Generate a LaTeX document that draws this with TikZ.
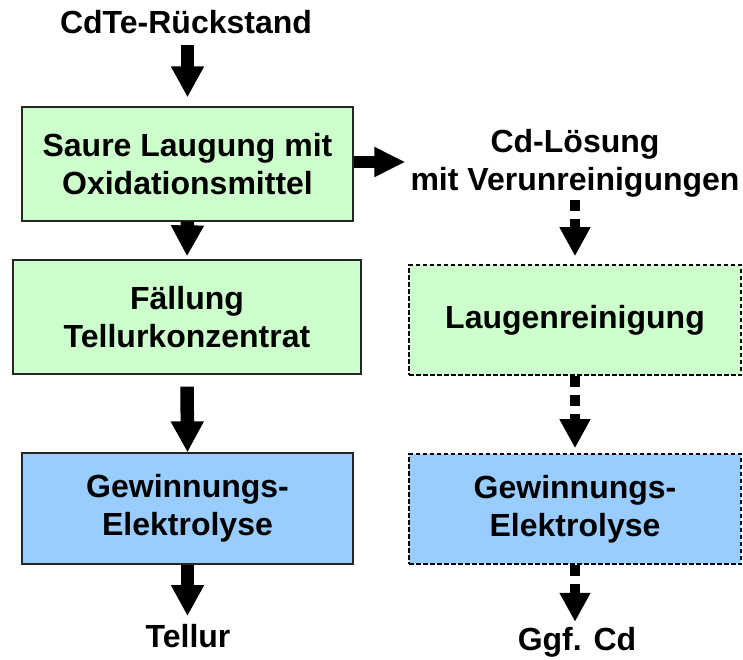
\documentclass[tikz,border=0pt]{standalone}
\usepackage{fontspec}
\setmainfont{Liberation Sans}
\usetikzlibrary{arrows.meta}
\definecolor{boxgreen}{RGB}{204,255,204}
\definecolor{boxblue}{RGB}{153,204,255}
\begin{document}
\begin{tikzpicture}[x=1pt,y=-1pt,
  every node/.style={font=\bfseries\fontsize{32}{38}\selectfont, align=center, inner sep=0pt},
  procbox/.style={draw=black!85, line width=1.3pt, minimum height=#1},
  greenfill/.style={fill=boxgreen},
  bluefill/.style={fill=boxblue},
  dashedbox/.style={draw=black, line width=1.6pt, dash pattern=on 4.5pt off 2.5pt},
  bigarrow/.style={line width=13.5pt, -{Triangle[width=31pt,length=31pt]}},
  sidearrow/.style={line width=12pt, -{Triangle[width=28pt,length=31pt]}},
  dasharrow/.style={line width=10.5pt, dash pattern=on 11pt off 8pt, -{Triangle[width=29pt,length=29pt]}}
]
\useasboundingbox (0,0) rectangle (743,659);

\node (title) at (186,22) {CdTe-Rückstand};
\node[procbox=114pt, minimum width=331pt, greenfill] (b1) at (187.5,164) {Saure Laugung mit\\Oxidationsmittel};
\node[procbox=114pt, minimum width=348pt, greenfill] (b2) at (187,317) {Fällung\\Tellurkonzentrat};
\node[procbox=111pt, minimum width=331pt, bluefill] (b3) at (187.5,508.5) {Gewinnungs-\\Elektrolyse};
\node (tellur) at (188,636) {Tellur};

\node (cdl) at (575,163) {Cd-Lösung\\mit Verunreinigungen};
\node[procbox=110pt, minimum width=332pt, greenfill, dashedbox] (r1) at (575,320) {Laugenreinigung};
\node[procbox=110pt, minimum width=332pt, bluefill, dashedbox] (r2) at (575,509) {Gewinnungs-\\Elektrolyse};
\node (ggf) at (577,642) {Ggf. Cd};

\draw[bigarrow, shorten <=11pt, shorten >=9pt] (title.south -| b1.center) -- (b1.north);
\draw[bigarrow, shorten >=3pt] (b1.south) -- (b2.north);
\draw[bigarrow, shorten <=12pt] (b2.south) -- (b3.north);
\draw[bigarrow, shorten >=8pt] (b3.south) -- (tellur.north -| b3.south);

\draw[sidearrow, shorten >=5pt] ([yshift=2pt]b1.east) -- ([yshift=2pt]b1.east -| cdl.west);

\draw[dasharrow, shorten <=3pt, shorten >=8pt] (cdl.south -| r1.north) -- (r1.north);
\draw[dasharrow, shorten >=5pt] (r1.south) -- (r2.north);
\draw[dasharrow, shorten >=5pt] (r2.south) -- (ggf.north -| r2.south);
\end{tikzpicture}
\end{document}
